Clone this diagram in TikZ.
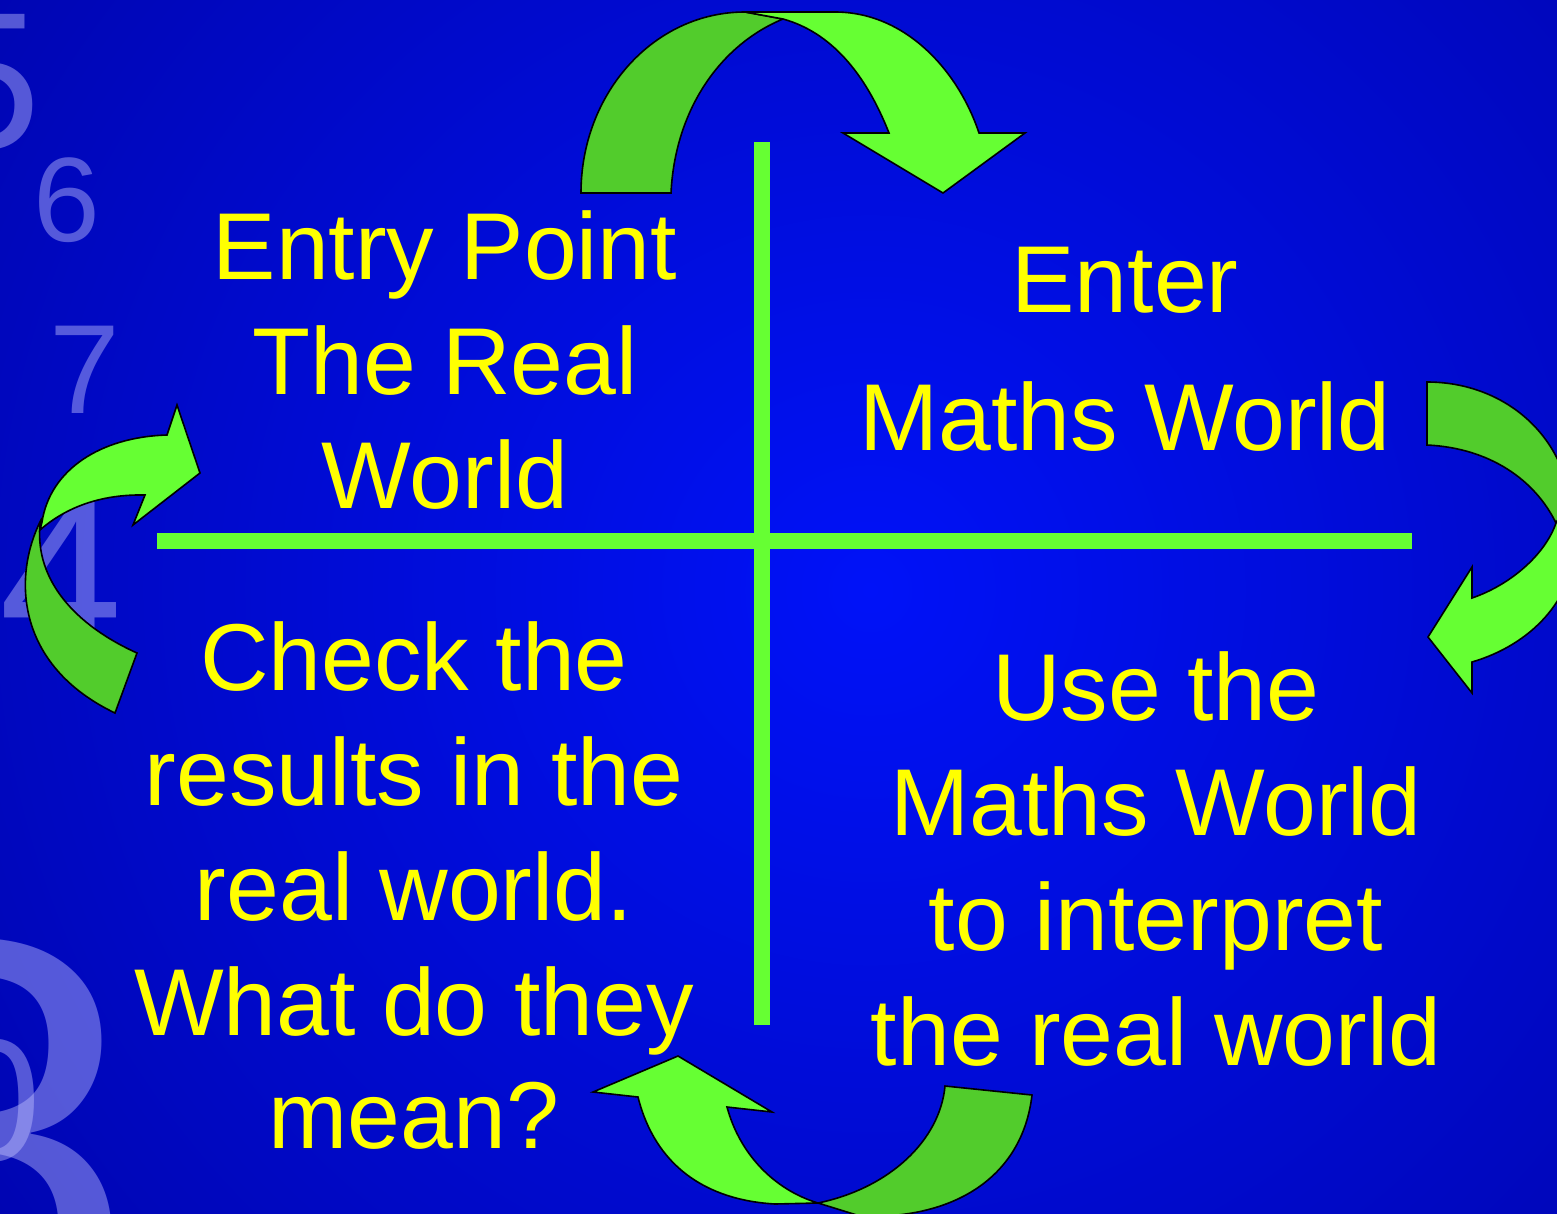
\documentclass[tikz,border=0pt]{standalone}
\usepackage{fontspec}
\setmainfont{Liberation Sans}
\definecolor{bgin}{RGB}{0,18,248}
\definecolor{bgout}{RGB}{0,0,150}
\definecolor{lgreen}{RGB}{102,255,51}
\definecolor{dgreen}{RGB}{82,204,44}
\definecolor{txtyellow}{RGB}{255,255,0}
\definecolor{digitcol}{RGB}{190,190,255}
\tikzset{
  lbl/.style={font=\fontsize{95}{114}\selectfont, text=txtyellow, inner sep=0pt, anchor=base},
  bgdigit/.style={text=digitcol, text opacity=0.45, inner sep=0pt, anchor=base west},
  headpart/.style={fill=lgreen, draw=black, line width=1.6pt, line join=miter},
  tailpart/.style={fill=dgreen, draw=black, line width=1.6pt, line join=miter},
  crossbar/.style={fill=lgreen}
}
\begin{document}
\begin{tikzpicture}[x=1pt,y=-1pt]
\useasboundingbox (0,0) rectangle (1557,1213);
\begin{scope}
\clip (0,0) rectangle (1557,1213);
% background
\shade[inner color=bgin, outer color=bgout] (870,590) circle (1500);
% background digits
\node[bgdigit, font=\fontsize{195}{195}\selectfont] (d5) at (-68,148) {5};
\node[bgdigit, font=\fontsize{120}{120}\selectfont] (d6) at (33,241) {6};
\node[bgdigit, font=\fontsize{127}{127}\selectfont] (d7) at (49,413) {7};
\node[bgdigit, font=\fontsize{222}{222}\selectfont] (d4) at (-1,652) {4};
\node[bgdigit, font=\fontsize{580}{580}\selectfont] (d8) at (-186,1343) {8};
\node[bgdigit, font=\fontsize{174}{174}\selectfont] (d0) at (-56,1160) {0};
% cross
\fill[crossbar] (754,142) rectangle (770,1025);
\fill[crossbar] (157,533) rectangle (1412,549);
% texts
\node[lbl] (tl1) at (445,279) {Entry Point};
\node[lbl] (tl2) at (445,394) {The Real};
\node[lbl] (tl3) at (445,508) {World};
\node[lbl] (tr1) at (1125,312) {Enter};
\node[lbl] (tr2) at (1125,450) {Maths World};
\node[lbl] (bl1) at (414,690) {Check the};
\node[lbl] (bl2) at (414,805) {results in the};
\node[lbl] (bl3) at (414,920) {real world.};
\node[lbl] (bl4) at (414,1035) {What do they};
\node[lbl] (bl5) at (414,1148) {mean?};
\node[lbl] (br1) at (1156,720) {Use the};
\node[lbl] (br2) at (1156,835) {Maths World};
\node[lbl] (br3) at (1156,950) {to interpret};
\node[lbl] (br4) at (1156,1065) {the real world};
% top arrow
\draw[tailpart] (581,193) .. controls (581,93) and (654,12) .. (745,12) -- (783,19)
  .. controls (720,45) and (675,110) .. (671,193) -- cycle;
\draw[headpart] (745,12) -- (835,12) .. controls (905,12) and (958,70) .. (979,133)
  -- (1025,133) -- (943,193) -- (843,133) -- (889,133)
  .. controls (865,72) and (830,32) .. (783,19) -- cycle;
% right arrow
\draw[tailpart] (1427,382) .. controls (1500,382) and (1560,430) .. (1570,500) -- (1556,523)
  .. controls (1535,480) and (1490,448) .. (1427,445) -- cycle;
\draw[headpart] (1556,523) .. controls (1545,555) and (1510,585) .. (1472,598)
  -- (1472,567) -- (1428,637) -- (1472,693) -- (1472,662)
  .. controls (1530,645) and (1575,600) .. (1575,540) -- (1570,500) -- cycle;
% bottom arrow
\draw[tailpart] (945,1086) -- (1032,1095) .. controls (1022,1180) and (950,1220) .. (860,1216)
  -- (818,1203) .. controls (890,1188) and (940,1140) .. (945,1086) -- cycle;
\draw[headpart] (818,1203) -- (775,1204) .. controls (705,1200) and (655,1165) .. (638,1097)
  -- (593,1092) -- (678,1056) -- (772,1112) -- (727,1107)
  .. controls (740,1155) and (775,1190) .. (818,1203) -- cycle;
% left arrow
\draw[tailpart] (42,518) .. controls (12,575) and (15,665) .. (115,713) -- (137,653)
  .. controls (75,625) and (35,580) .. (40,525) -- cycle;
\draw[headpart] (42,522) .. controls (50,470) and (100,437) .. (167,435) -- (177,405)
  -- (200,473) -- (133,525) -- (145,495) .. controls (100,494) and (65,508) .. (40,530) -- cycle;
\end{scope}
\end{tikzpicture}
\end{document}
